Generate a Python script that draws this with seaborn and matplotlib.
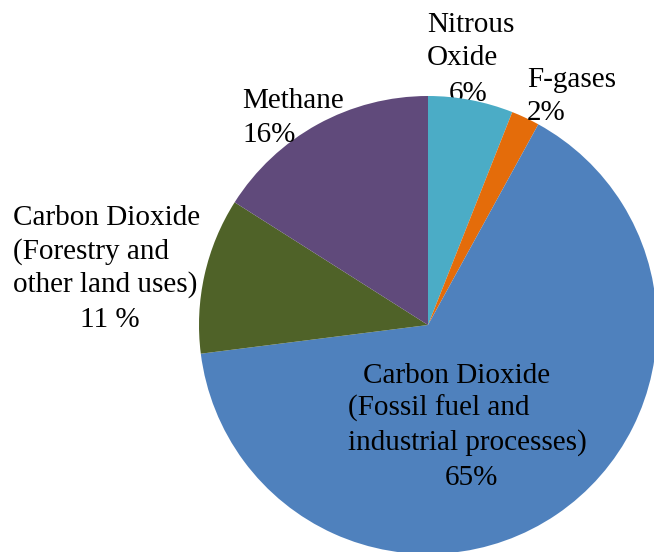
import matplotlib
matplotlib.use("Agg")
import matplotlib.pyplot as plt
from matplotlib import font_manager
import seaborn as sns

# Global greenhouse gas emissions by gas (share of total, %)
gases = [
    "Nitrous Oxide",
    "F-gases",
    "Carbon Dioxide (Fossil fuel and industrial processes)",
    "Carbon Dioxide (Forestry and other land uses)",
    "Methane",
]
shares = [6, 2, 65, 11, 16]
colors = ["#4BACC6", "#E46C0A", "#4F81BD", "#4F6228", "#604A7B"]

# Label text for each slice, one string per printed line
label_lines = [
    ["Nitrous", "Oxide", "6%"],
    ["F-gases", "2%"],
    ["Carbon Dioxide", "(Fossil fuel and", "industrial processes)", "65%"],
    ["Carbon Dioxide", "(Forestry and", "other land uses)", "11 %"],
    ["Methane", "16%"],
]

sns.set_theme(style="white")


def pick_times_like():
    """Return the file of the first installed Times-style regular face."""
    preferred = ["Liberation Serif", "Tinos", "Times New Roman", "FreeSerif",
                 "Nimbus Roman", "Nimbus Roman No9 L", "TeX Gyre Termes"]
    faces = font_manager.fontManager.ttflist
    for name in preferred:
        for f in faces:
            if (f.name == name and f.style == "normal"
                    and f.weight in (400, "normal", "regular", "book")):
                return f.fname
    return None


serif_file = pick_times_like()
if serif_file:
    label_font = font_manager.FontProperties(fname=serif_file, size=21)
else:
    label_font = font_manager.FontProperties(family="DejaVu Serif", size=19)

W, H = 654, 552
fig = plt.figure(figsize=(W / 100, H / 100), dpi=100)
ax = fig.add_axes([0, 0, 1, 1])

# Pie centred at pixel (428, 325) measured from the top-left corner
cx, cy, r = 428, H - 325, 229
wedges, _ = ax.pie(
    shares,
    colors=colors,
    startangle=90,
    counterclock=False,
    center=(cx, cy),
    radius=r,
    frame=True,
    wedgeprops=dict(linewidth=0),
)
for w in wedges:
    w.set_zorder(2)
ax.set_xlim(0, W)
ax.set_ylim(0, H)
ax.set_aspect("equal")
ax.axis("off")

# Line anchors (left x, baseline y from top) for each slice label
anchors = [
    [(427, 32), (427, 65), (449, 101)],
    [(527, 87), (527, 120)],
    [(363, 383), (348, 416), (348, 450), (445, 485)],
    [(13, 225), (13, 259), (13, 292), (80, 327)],
    [(242, 108), (242, 142)],
]
# The nitrous oxide label sits behind the pie; the rest are drawn on top
layers = [1, 3, 3, 3, 3]

for lines, pos, z in zip(label_lines, anchors, layers):
    for text, (x, y) in zip(lines, pos):
        ax.text(x, H - y, text, fontproperties=label_font, color="black",
                ha="left", va="baseline", zorder=z)

fig.savefig("out.png", dpi=100, facecolor="white")
